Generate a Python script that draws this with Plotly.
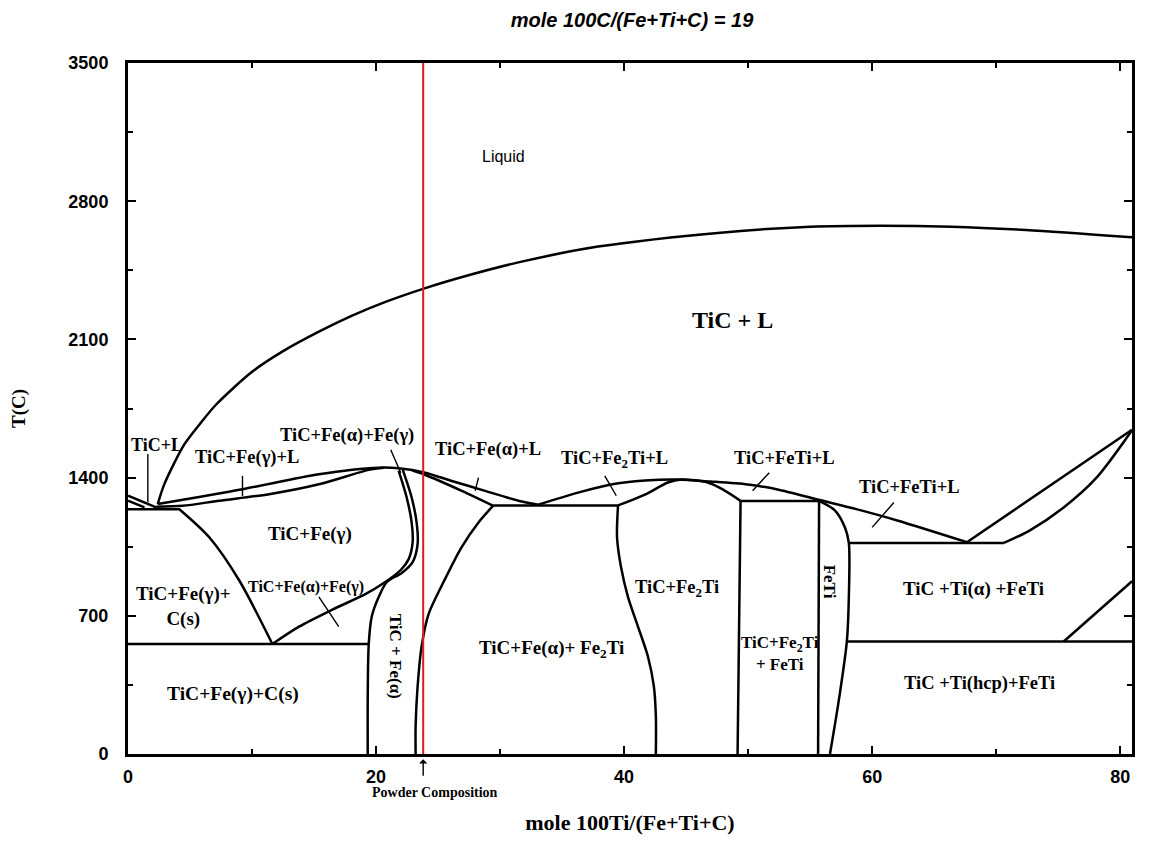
import plotly.graph_objects as go

# ---------------- data (x = mole 100Ti/(Fe+Ti+C), T in C) ----------------
liq_x = [2.4, 2.93, 4.54, 5.75, 7.09, 10.03, 12.44, 15.39, 18.07, 20.76, 23.97, 27.45, 31.47, 37.9, 48.0, 55.0, 60.7, 66.4, 72.4, 80.95]
liq_T = [1266, 1367, 1568, 1668, 1769, 1937, 2038, 2139, 2220, 2290, 2360, 2425, 2490, 2570, 2642, 2671, 2676, 2671, 2654, 2617]

lg_x = [2.4, 9.23, 15.39, 20.22, 21.82, 23.97, 26.11, 28.79, 31.47, 33.08]
lg_T = [1266, 1341, 1417, 1450, 1447, 1425, 1383, 1333, 1283, 1263]

solg_x = [2.27, 4.41, 7.36, 11.38, 15.39, 19.41, 20.62]
solg_T = [1252, 1257, 1283, 1316, 1366, 1439, 1450]

eut1_x = [0, 4.2]
eut1_T = [1240, 1240]

sl1_x = [0, 2.27]
sl1_T = [1308, 1249]
sl2_x = [0, 1.33]
sl2_T = [1283, 1249]

gc_x = [4.14, 6.55, 8.96, 11.64]
gc_T = [1240, 1098, 880, 557]

hor2_x = [0, 19.41]
hor2_T = [557, 557]

a_x = [11.64, 13.79, 16.44, 19.17, 20.62, 21.99, 22.63, 22.95, 22.87, 22.47, 21.82]
a_T = [557, 645, 730, 811, 866, 932, 987, 1073, 1173, 1299, 1435]

b_x = [22.15, 22.87, 23.27, 23.35, 22.95, 22.07, 20.86, 20.22, 19.65, 19.41, 19.33, 19.33]
b_T = [1440, 1299, 1173, 1063, 972, 917, 871, 796, 695, 557, 292, 0]

sola_x = [22.9, 23.83, 26.91, 29.46]
sola_T = [1437, 1417, 1333, 1257]

hor3_x = [29.46, 39.51]
hor3_T = [1259, 1259]

fa_x = [29.46, 28.26, 26.89, 25.44, 24.24, 23.67, 23.35, 23.19, 23.19]
fa_T = [1259, 1173, 1047, 871, 710, 544, 342, 141, 0]

f2l_x = [39.51, 39.43, 39.75, 40.31, 41.12, 41.92, 42.4, 42.56, 42.56]
f2l_T = [1259, 1098, 947, 796, 645, 494, 342, 191, 0]

f2liq_x = [33.08, 36.29, 38.95, 41.68, 44.33, 46.99, 49.96, 52.37, 55.59, 58.8, 62.02, 67.64]
f2liq_T = [1263, 1324, 1365, 1385, 1390, 1380, 1365, 1340, 1289, 1239, 1183, 1073]

f2sol_x = [39.51, 41.68, 43.53, 44.6, 46.74, 47.95, 49.39]
f2sol_T = [1259, 1314, 1375, 1390, 1375, 1340, 1282]

hor4_x = [49.39, 55.72]
hor4_T = [1282, 1282]

v1_x = [49.39, 49.15]
v1_T = [1282, 0]
v2_x = [55.72, 55.64]
v2_T = [1282, 0]

fetir_x = [55.72, 56.99, 57.8, 58.12, 58.12, 57.96, 57.36, 56.6]
fetir_T = [1282, 1234, 1148, 1068, 796, 570, 292, 0]

hor5_x = [58.12, 70.62]
hor5_T = [1069, 1069]

diag1_x = [67.64, 80.95]
diag1_T = [1073, 1642]

curver_x = [70.62, 72.72, 75.44, 78.09, 80.95]
curver_T = [1069, 1133, 1249, 1400, 1640]

hor6_x = [57.96, 80.95]
hor6_T = [570, 570]

diag2_x = [75.44, 80.95]
diag2_T = [570, 875]

# label pointer segments
ptr_x = [[1.6, 1.6], [9.23, 9.23], [21.18, 21.99], [15.39, 16.99], [28.26, 27.99], [38.44, 39.37], [51.7, 50.36], [61.75, 60.0]]
ptr_T = [[1520, 1275], [1409, 1307], [1541, 1425], [796, 645], [1400, 1333], [1409, 1308], [1425, 1333], [1274, 1148]]

powder_x = 23.8

labels = [
    ("TiC+L", 2.37, 1566, 0, 18),
    ("TiC+Fe(γ)+L", 9.61, 1501, 0, 18.5),
    ("TiC+Fe(α)+Fe(γ)", 17.65, 1612, 0, 18.5),
    ("TiC+Fe(γ)", 14.67, 1113, 0, 19),
    ("TiC+Fe(γ)+<br>C(s)", 4.5, 745, 0, 19),
    ("TiC+Fe(α)+Fe(γ)", 14.35, 846, 0, 16),
    ("TiC+Fe(γ)+C(s)", 8.48, 302, 0, 19.5),
    ("TiC + Fe(α)", 21.58, 494, 90, 17),
    ("TiC+Fe(α)+L", 29.06, 1541, 0, 18.5),
    ("TiC+Fe<sub>2</sub>Ti+L", 39.19, 1491, 0, 18.5),
    ("TiC+Fe<sub>2</sub>Ti", 44.25, 836, 0, 18.5),
    ("TiC+Fe(α)+ Fe<sub>2</sub>Ti", 34.12, 534, 0, 19),
    ("TiC+FeTi+L", 52.93, 1501, 0, 18.5),
    ("TiC+FeTi+L", 62.98, 1350, 0, 18.5),
    ("FeTi", 56.63, 871, 90, 17),
    ("TiC +Ti(α) +FeTi", 68.13, 836, 0, 19),
    ("TiC+Fe<sub>2</sub>Ti<br>+ FeTi", 52.6, 509, 0, 17),
    ("TiC +Ti(hcp)+FeTi", 68.69, 358, 0, 18.5),
    ("TiC + L", 48.75, 2196, 0, 24),
]

# ---------------- figure ----------------
fig = go.Figure()
LW = 2.5

def add_line(xs, ys, shape="spline", color="black", width=LW):
    fig.add_trace(go.Scatter(x=xs, y=ys, mode="lines", showlegend=False, hoverinfo="skip",
                             line=dict(color=color, width=width, shape=shape, smoothing=0.8)))

curves = [(liq_x, liq_T), (lg_x, lg_T), (solg_x, solg_T), (gc_x, gc_T), (a_x, a_T), (b_x, b_T),
          (sola_x, sola_T), (fa_x, fa_T), (f2l_x, f2l_T), (f2liq_x, f2liq_T), (f2sol_x, f2sol_T),
          (fetir_x, fetir_T), (curver_x, curver_T)]
for xs, ys in curves:
    add_line(xs, ys, "spline")

straights = [(eut1_x, eut1_T), (sl1_x, sl1_T), (sl2_x, sl2_T), (hor2_x, hor2_T), (hor3_x, hor3_T),
             (hor4_x, hor4_T), (v1_x, v1_T), (v2_x, v2_T), (hor5_x, hor5_T), (diag1_x, diag1_T),
             (hor6_x, hor6_T), (diag2_x, diag2_T)]
for xs, ys in straights:
    add_line(xs, ys, "linear")

for xs, ys in zip(ptr_x, ptr_T):
    add_line(xs, ys, "linear", width=1.4)

add_line([powder_x, powder_x], [0, 3500], "linear", color="#e31a1c", width=2)

serif = "Liberation Serif"
sans = "Liberation Sans"

for text, x, y, ang, size in labels:
    fig.add_annotation(x=x, y=y, xref="x", yref="y", text="<b>" + text + "</b>", showarrow=False,
                       textangle=ang, xanchor="center", yanchor="middle",
                       font=dict(family=serif, size=size, color="black"))

fig.add_annotation(x=30.27, y=3027, xref="x", yref="y", text="Liquid", showarrow=False,
                   xanchor="center", yanchor="middle",
                   font=dict(family=sans, size=16, color="black"))

fig.add_annotation(x=powder_x, y=-0.0075, xref="x", yref="paper", text="", showarrow=True,
                   ax=0, ay=18, arrowhead=1, arrowsize=1, arrowwidth=1.4, arrowcolor="black")
fig.add_annotation(x=24.75, y=-0.056, xref="x", yref="paper", text="<b>Powder Composition</b>",
                   xanchor="center", yanchor="middle",
                   showarrow=False, font=dict(family=serif, size=14, color="black"))

# page body has an 8px margin on every side, so the figure is sized to fit inside it
W, H = 1133, 830
fig.update_layout(
    width=W, height=H,
    margin=dict(l=120, r=6, t=55, b=80),
    paper_bgcolor="white", plot_bgcolor="white",
    title=dict(text="<b><i>mole 100C/(Fe+Ti+C) = 19</i></b>", x=(632 - 8) / W, xanchor="center",
               y=1 - 12 / H, yanchor="middle", font=dict(family=sans, size=20, color="black")),
)

fig.update_xaxes(
    range=[0, 80.95], tickvals=[0, 20, 40, 60, 80], ticks="inside", ticklen=8, tickwidth=2,
    tickcolor="black", showline=True, linecolor="black", linewidth=3, mirror="allticks",
    showgrid=False, zeroline=False, ticklabelstandoff=4,
    tickfont=dict(family=sans, size=18, color="black", weight="bold"),
    minor=dict(tickvals=[10, 30, 50, 70], ticks="inside", ticklen=5, tickwidth=2, tickcolor="black"),
    title=dict(text="<b>mole 100Ti/(Fe+Ti+C)</b>", standoff=30,
               font=dict(family=serif, size=22, color="black")),
)
fig.update_yaxes(
    range=[0, 3500], tickvals=[0, 700, 1400, 2100, 2800, 3500], ticks="inside", ticklen=8, tickwidth=2,
    tickcolor="black", showline=True, linecolor="black", linewidth=3, mirror="allticks",
    showgrid=False, zeroline=False, ticklabelstandoff=13,
    tickfont=dict(family=sans, size=18, color="black", weight="bold"),
    minor=dict(tickvals=[350, 1050, 1750, 2450, 3150], ticks="inside", ticklen=5, tickwidth=2, tickcolor="black"),
    title=dict(text="<b>T(C)</b>", standoff=38, font=dict(family=serif, size=19, color="black")),
)

fig.write_html("out.html")
